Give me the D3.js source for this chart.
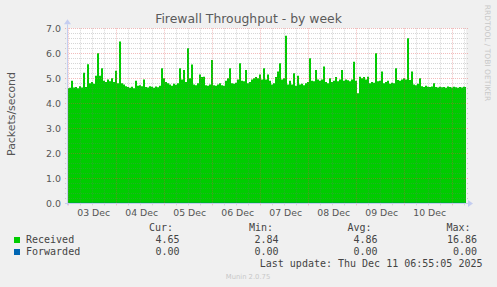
<!DOCTYPE html>
<html>
<head>
<meta charset="utf-8">
<script src="https://cdn.jsdelivr.net/npm/d3@7"></script>
<style>
  body { margin: 0; background: #f0f0f0; }
  svg { display: block; }
  text { font-family: "DejaVu Sans", sans-serif; fill: #555; }
  .mono { font-family: "DejaVu Sans Mono", monospace; font-size: 10px; fill: #444; }
</style>
</head>
<body>
<div id="chart"></div>
<script>
// one value per hour, starting 02 Dec 23:25
var startTime = new Date(2025, 11, 2, 23, 25);
var endTime = new Date(2025, 11, 11, 6, 55);
var received = [
  4.60, 4.62, 4.90, 4.63, 4.65, 4.60, 4.68, 4.63, 5.22, 4.65,
  5.56, 4.80, 4.85, 4.78, 5.10, 6.00, 5.10, 5.40, 4.90, 4.85,
  4.95, 4.88, 5.00, 4.85, 5.30, 4.80, 6.47, 4.80, 4.75, 4.68,
  4.65, 4.62, 4.66, 4.60, 4.90, 4.70, 4.72, 4.68, 4.95, 4.65,
  4.63, 4.68, 4.66, 4.62, 4.67, 4.64, 4.70, 5.40, 5.00, 4.85,
  4.80, 4.75, 4.70, 4.78, 4.74, 4.80, 5.40, 4.95, 5.33, 4.85,
  6.20, 5.00, 5.55, 4.75, 4.72, 4.80, 5.15, 5.05, 5.06, 4.72,
  4.70, 4.75, 5.73, 4.72, 4.70, 4.75, 4.80, 4.72, 4.70, 4.90,
  5.00, 5.40, 4.80, 4.78, 4.82, 4.95, 5.60, 4.90, 4.88, 5.33,
  4.80, 4.85, 4.95, 5.00, 5.05, 5.00, 5.15, 4.95, 5.40, 4.95,
  5.15, 4.90, 4.75, 4.80, 5.05, 5.27, 5.60, 4.95, 5.00, 6.70,
  4.75, 4.90, 4.75, 5.20, 4.70, 5.10, 4.75, 4.78, 4.72, 4.80,
  4.85, 5.80, 4.90, 4.88, 5.33, 4.95, 4.90, 4.95, 5.47, 4.85,
  4.80, 5.00, 4.85, 4.90, 5.05, 4.88, 4.95, 5.33, 4.90, 4.95,
  4.92, 4.88, 4.95, 5.66, 4.90, 4.40, 5.06, 5.00, 5.05, 4.95,
  5.06, 4.80, 4.85, 4.82, 6.00, 4.88, 4.90, 5.27, 4.80, 4.85,
  4.90, 4.78, 4.82, 4.80, 5.40, 4.93, 4.90, 4.95, 5.00, 4.95,
  6.60, 4.93, 5.27, 4.75, 4.72, 4.78, 5.00, 4.68, 4.65, 4.70,
  4.66, 4.65, 4.67, 4.80, 4.65, 4.63, 4.66, 4.64, 4.65, 4.62,
  4.67, 4.65, 4.63, 4.66, 4.64, 4.62, 4.65, 4.63, 4.66, 4.65
];
var forwarded = received.map(function(){ return 0; });

var yTicks = [0, 1, 2, 3, 4, 5, 6, 7];
var dayLabels = ["03 Dec", "04 Dec", "05 Dec", "06 Dec", "07 Dec", "08 Dec", "09 Dec", "10 Dec"];
var legendNames = ["Received", "Forwarded"];
var legendColors = ["#00cc00", "#0066b3"];
var legendCur = ["4.65", "0.00"];
var legendMin = ["2.84", "0.00"];
var legendAvg = ["4.86", "0.00"];
var legendMax = ["16.86", "0.00"];

var props = {
  width: 497,
  height: 287,
  left: 67,
  right: 466,
  top: 28.3,
  bottom: 203.3
};

var svg = d3.select("#chart").append("svg")
  .attr("width", props.width)
  .attr("height", props.height);

svg.append("rect").attr("width", props.width).attr("height", props.height).attr("fill", "#f0f0f0");

var x = d3.scaleTime().domain([startTime, endTime]).range([props.left, props.right]);
var y = d3.scaleLinear().domain([0, 7]).range([props.bottom, props.top]);

// canvas
svg.append("rect")
  .attr("x", props.left).attr("y", props.top)
  .attr("width", props.right - props.left).attr("height", props.bottom - props.top)
  .attr("fill", "#ffffff");

svg.append("clipPath").attr("id", "plot-clip")
  .append("rect")
  .attr("x", props.left).attr("y", 0)
  .attr("width", props.right - props.left).attr("height", props.bottom);

function hourAt(i){ return d3.timeHour.offset(startTime, i); }

var rxPoints = received.map(function(v, i){ return { t: hourAt(i), v: v }; });
rxPoints.push({ t: hourAt(received.length), v: received[received.length - 1] });

var area = d3.area()
  .curve(d3.curveStepAfter)
  .x(function(d){ return x(d.t); })
  .y0(y(0))
  .y1(function(d){ return y(d.v); });

svg.append("path")
  .attr("clip-path", "url(#plot-clip)")
  .attr("d", area(rxPoints))
  .attr("fill", "#00cc00");

var fwPoints = forwarded.map(function(v, i){ return { t: hourAt(i), v: v }; });
svg.append("path")
  .attr("clip-path", "url(#plot-clip)")
  .attr("d", d3.line().x(function(d){ return x(d.t); }).y(function(d){ return y(d.v); })(fwPoints))
  .attr("fill", "none")
  .attr("stroke", "#0066b3")
  .attr("stroke-width", 1);

// grid
var grid = svg.append("g").attr("class", "grid");
var minorY = d3.range(0, 35).map(function(i){ return i * 0.2; }).filter(function(v){ return Math.abs(v - Math.round(v)) > 0.01; });
grid.selectAll(".minor-y").data(minorY).enter().append("line")
  .attr("x1", props.left - 2).attr("x2", props.right + 2)
  .attr("y1", function(d){ return Math.round(y(d)) + 0.5; })
  .attr("y2", function(d){ return Math.round(y(d)) + 0.5; })
  .attr("stroke", "rgba(120,120,120,0.3)")
  .attr("stroke-dasharray", "1,1");

var sixHours = d3.timeHour.every(6).range(startTime, endTime).filter(function(d){ return d.getHours() != 0; });
grid.selectAll(".minor-x").data(sixHours).enter().append("line")
  .attr("y1", props.top).attr("y2", props.bottom + 2)
  .attr("x1", function(d){ return Math.round(x(d)) + 0.5; })
  .attr("x2", function(d){ return Math.round(x(d)) + 0.5; })
  .attr("stroke", "rgba(120,120,120,0.3)")
  .attr("stroke-dasharray", "1,1");

grid.selectAll(".major-y").data(yTicks.slice(1)).enter().append("line")
  .attr("x1", props.left - 2).attr("x2", props.right + 2)
  .attr("y1", function(d){ return Math.round(y(d)) + 0.5; })
  .attr("y2", function(d){ return Math.round(y(d)) + 0.5; })
  .attr("stroke", "rgba(220,80,80,0.38)")
  .attr("stroke-dasharray", "1,1");

var days = d3.timeDay.range(startTime, endTime);
grid.selectAll(".major-x").data(days).enter().append("line")
  .attr("y1", props.top).attr("y2", props.bottom + 3)
  .attr("x1", function(d){ return Math.round(x(d)) + 0.5; })
  .attr("x2", function(d){ return Math.round(x(d)) + 0.5; })
  .attr("stroke", "rgba(220,80,80,0.38)")
  .attr("stroke-dasharray", "1,1");

// axes lines + arrows
svg.append("line")
  .attr("x1", props.left - 2).attr("x2", props.right + 3)
  .attr("y1", Math.round(props.bottom) + 0.5).attr("y2", Math.round(props.bottom) + 0.5)
  .attr("stroke", "#c4cdf0");
svg.append("line")
  .attr("x1", props.left + 0.5).attr("x2", props.left + 0.5)
  .attr("y1", props.bottom + 2).attr("y2", props.top - 4)
  .attr("stroke", "#c4cdf0");
svg.append("path")
  .attr("d", "M" + (props.right + 2) + "," + (Math.round(props.bottom) - 3) + "L" + (props.right + 7) + "," + (Math.round(props.bottom) + 0.5) + "L" + (props.right + 2) + "," + (Math.round(props.bottom) + 4) + "Z")
  .attr("fill", "#c4cdf0");
svg.append("path")
  .attr("d", "M" + (props.left - 3) + "," + (props.top - 4) + "L" + (props.left + 0.5) + "," + (props.top - 9) + "L" + (props.left + 4) + "," + (props.top - 4) + "Z")
  .attr("fill", "#c4cdf0");

// y tick labels
svg.append("g").selectAll("text").data(yTicks).enter().append("text")
  .attr("x", 61)
  .attr("y", function(d){ return y(d) + 3.5; })
  .attr("text-anchor", "end")
  .style("font-size", "9.4px")
  .text(function(d){ return d3.format(".1f")(d); });

// x labels at midday
svg.append("g").selectAll("text").data(dayLabels).enter().append("text")
  .attr("x", function(d, i){ return x(d3.timeHour.offset(days[i], 12)) + 1.5; })
  .attr("y", 216)
  .attr("text-anchor", "middle")
  .style("font-size", "9.3px")
  .text(function(d){ return d; });

// titles
svg.append("text")
  .attr("x", 248.5).attr("y", 23)
  .attr("text-anchor", "middle")
  .style("font-size", "12.4px")
  .style("fill", "#5a5a5a")
  .text("Firewall Throughput - by week");

svg.append("text")
  .attr("transform", "translate(15,114) rotate(-90)")
  .attr("text-anchor", "middle")
  .style("font-size", "10.9px")
  .text("Packets/second");

svg.append("text")
  .attr("transform", "translate(485,53) rotate(90)")
  .attr("text-anchor", "middle")
  .style("font-size", "7.5px")
  .style("fill", "#c8c8c8")
  .text("RRDTOOL / TOBI OETIKER");

// legend
var legend = svg.append("g");
legend.append("text").attr("class", "mono").attr("x", 149).attr("y", 231).text("Cur:");
legend.append("text").attr("class", "mono").attr("x", 249).attr("y", 231).text("Min:");
legend.append("text").attr("class", "mono").attr("x", 347.5).attr("y", 231).text("Avg:");
legend.append("text").attr("class", "mono").attr("x", 446.5).attr("y", 231).text("Max:");

var rows = legend.selectAll(".row").data(legendNames).enter().append("g")
  .attr("transform", function(d, i){ return "translate(0," + (243 + i * 12) + ")"; });
rows.append("rect")
  .attr("x", 14).attr("y", -6).attr("width", 6).attr("height", 6)
  .attr("fill", function(d, i){ return legendColors[i]; });
rows.append("text").attr("class", "mono").attr("x", 26).text(function(d){ return d; });
rows.append("text").attr("class", "mono").attr("x", 179.5).attr("text-anchor", "end").text(function(d, i){ return legendCur[i]; });
rows.append("text").attr("class", "mono").attr("x", 278.5).attr("text-anchor", "end").text(function(d, i){ return legendMin[i]; });
rows.append("text").attr("class", "mono").attr("x", 377.5).attr("text-anchor", "end").text(function(d, i){ return legendAvg[i]; });
rows.append("text").attr("class", "mono").attr("x", 477).attr("text-anchor", "end").text(function(d, i){ return legendMax[i]; });

legend.append("text").attr("class", "mono").attr("x", 482.5).attr("y", 267).attr("text-anchor", "end")
  .text("Last update: Thu Dec 11 06:55:05 2025");

svg.append("text")
  .attr("x", 248).attr("y", 279)
  .attr("text-anchor", "middle")
  .style("font-size", "6.8px")
  .style("fill", "#c8c8c8")
  .text("Munin 2.0.75");
</script>
</body>
</html>
